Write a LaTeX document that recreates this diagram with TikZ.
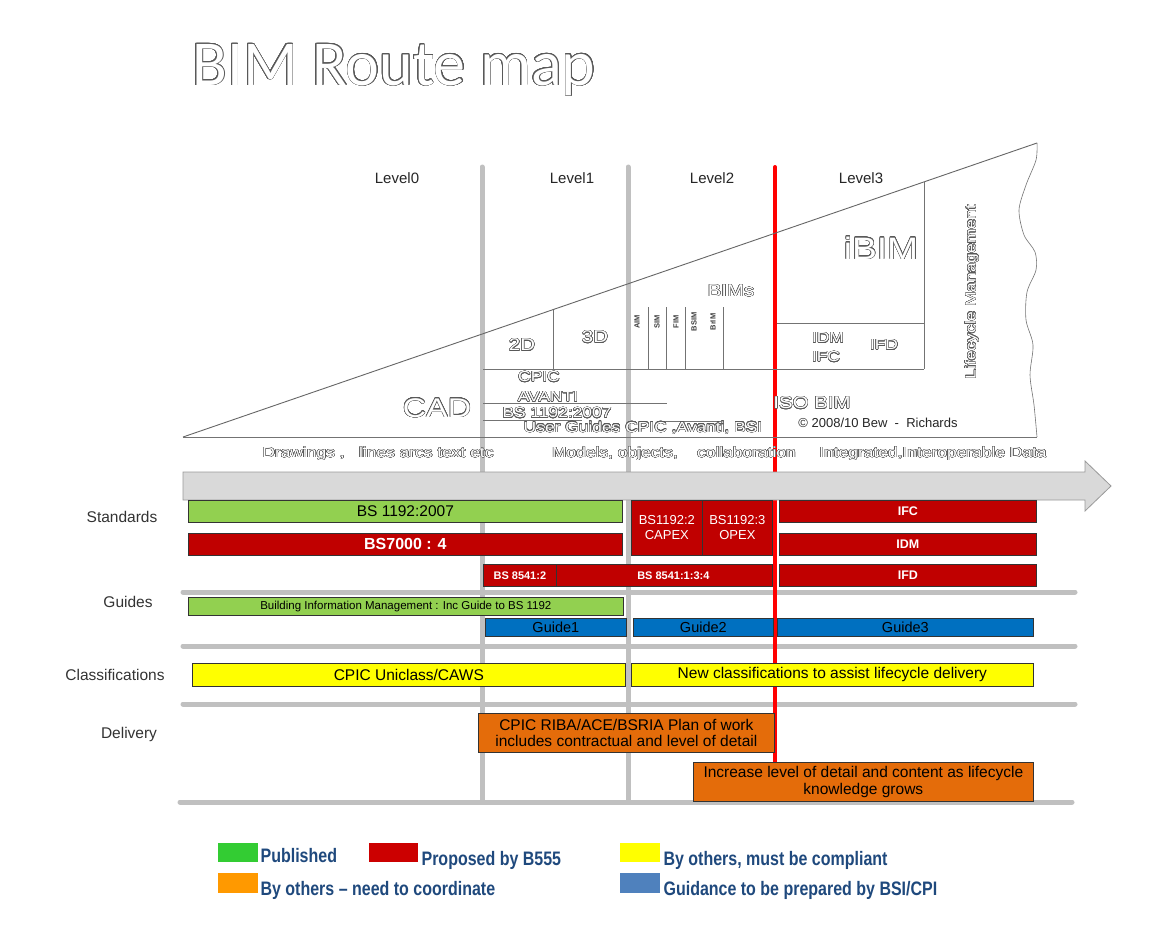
\documentclass[tikz,border=0pt]{standalone}
\usepackage{fontspec}
\setmainfont{Liberation Sans}
\newfontfamily\outlinefont{Liberation Sans}[FakeStretch=1.2]
\newfontfamily\titlefont{Carlito}
\newfontfamily\keyfont{Liberation Sans}[FakeStretch=0.82]
\usepackage{contour}
\contourlength{0.45pt}
\contournumber{24}
\usetikzlibrary{positioning}

\definecolor{bimgreen}{RGB}{146,208,80}
\definecolor{bimred}{RGB}{192,0,0}
\definecolor{bimblue}{RGB}{0,112,192}
\definecolor{bimyellow}{RGB}{255,255,0}
\definecolor{bimorange}{RGB}{228,108,10}
\definecolor{sepgray}{RGB}{192,192,192}
\definecolor{keygreen}{RGB}{51,204,51}
\definecolor{keyred}{RGB}{204,0,0}
\definecolor{keyorange}{RGB}{255,153,0}
\definecolor{keyblue}{RGB}{79,129,189}
\definecolor{keytext}{RGB}{31,73,125}

\newcommand{\fsz}[2]{\fontsize{#1}{#2}\selectfont}
\newcommand{\outlined}[1]{\contour{black!65}{#1}}

\begin{document}
\begin{tikzpicture}[x=1pt, y=-1pt,
  lvl/.style={font=\fsz{15}{17}, text=black!85},
  rowlbl/.style={font=\fsz{15.5}{18}, text=black!80},
  outl/.style={font=\outlinefont\fsz{14.5}{17}, text=white, inner sep=1pt},
  bar/.style={draw=black!80, line width=0.7pt, anchor=north west, inner sep=0pt,
    font=\fsz{15.5}{16.5}, align=center},
  redbar/.style={bar, fill=bimred, text=white, font=\bfseries\fsz{12.5}{14}},
  sepline/.style={line width=5pt, sepgray, line cap=round},
  lvlline/.style={line width=5pt, sepgray, line cap=round},
  thinline/.style={black!55, line width=0.6pt},
  keybox/.style={anchor=north west, inner sep=0pt},
  keylbl/.style={font=\keyfont\bfseries\fsz{19.5}{22}, text=keytext, inner sep=0pt}
]
  \useasboundingbox (0,0) rectangle (1155,932);
  \fill[white] (0,0) rectangle (1155,932);

  % Title
  \node[anchor=base west, font=\titlefont\fsz{64}{70}, text=white, inner sep=0pt]
    (title) at (192,85) {\contourlength{0.8pt}\outlined{BIM Route map}};

  % Row separators and level lines
  \foreach \y in {592,646,704}
    \draw[sepline] (183,\y) -- (1075,\y);
  \draw[sepline] (180,802) -- (1072,802);
  \foreach \x in {482,628}
    \draw[lvlline] (\x,167) -- (\x,800);
  \draw[red, line width=4pt, line cap=round] (775,167) -- (775,762);

  % Level labels
  \node[lvl] (lvlzero) at (397,178) {Level0};
  \node[lvl] (lvlone) at (572,178) {Level1};
  \node[lvl] (lvltwo) at (712,178) {Level2};
  \node[lvl] (lvlthree) at (861,178) {Level3};

  % Triangle
  \coordinate (tribl) at (183,437);
  \coordinate (tritr) at (1037,143);
  \coordinate (tribr) at (1037,437);
  \draw[black!60, line width=0.9pt] (tribl) -- (tritr);
  \draw[thinline] (tribl) -- (tribr);
  \draw[thinline] plot[smooth] coordinates {(1037,143) (1036,160) (1026,185) (1019,210)
    (1024,235) (1035,252) (1036,270) (1027,292) (1026,320) (1033,345) (1030,375)
    (1034,405) (1037,437)};

  % Inner divisions
  \draw[thinline] (483,369) -- (924,369);
  \draw[thinline] (924,182) -- (924,369);
  \draw[thinline] (777,323) -- (924,323);
  \draw[thinline] (553,310) -- (553,369);
  \foreach \x in {648,666,685,723}
    \draw[thinline] (\x,307) -- (\x,369);
  \draw[thinline] (483,403) -- (667,403);
  \draw[thinline] (483,420) -- (582,420);
  \draw[thinline] (663,421) -- (722,421);

  % Outlined labels in the triangle
  \node[outl, font=\outlinefont\fsz{27}{30}] (cad) at (437,408) {\outlined{CAD}};
  \node[outl, font=\outlinefont\fsz{17}{19}] (twod) at (522,345) {\outlined{2D}};
  \node[outl, font=\outlinefont\fsz{17}{19}] (threed) at (595,337) {\outlined{3D}};
  \node[outl, font=\outlinefont\fsz{17}{19}] (bims) at (731,291) {\outlined{BIMs}};
  \node[outl, font=\outlinefont\fsz{31}{34}] (ibim) at (881,248) {\outlined{iBIM}};
  \node[outl] (idmtxt) at (828,338) {\outlined{IDM}};
  \node[outl] (ifctxt) at (826,357) {\outlined{IFC}};
  \node[outl] (ifdtxt) at (884,345) {\outlined{IFD}};
  \node[outl, rotate=90] (lifecycle) at (972,292) {\outlined{Lifecycle Management}};
  \node[outl, font=\outlinefont\fsz{17}{19}] (isobim) at (812,403) {\outlined{ISO BIM}};
  \node[outl] (cpic) at (539,377) {\outlined{CPIC}};
  \node[outl] (avanti) at (548,397) {\outlined{AVANTI}};
  \node[outl] (bsguide) at (557,413) {\outlined{BS 1192:2007}};
  \node[outl] (userguides) at (643,428) {\outlined{User Guides CPIC ,Avanti, BSI}};
  \node[font=\fsz{13}{15}, text=black!85] (copyr) at (878,423) {\textcopyright\ 2008/10 Bew \ - \ Richards};
  \foreach \lbl/\x in {AIM/637, SIM/657, FIM/676, BSIM/694, BrIM/713}
    \node[rotate=90, font=\bfseries\fsz{7.5}{8}, text=black!75, inner sep=0pt] (bim\lbl) at (\x,322) {\lbl};

  % Arrow
  \draw[fill=black!15, draw=black!40, line width=0.8pt] (183,472) -- (1085,472) -- (1085,461)
    -- (1111,486) -- (1085,511) -- (1085,500) -- (183,500) -- cycle;
  \node[outl] (drawings) at (378,454) {\outlined{Drawings ,\ \ \ lines arcs text etc}};
  \node[outl] (models) at (674,454) {\outlined{Models, objects,\ \ \ \ collaboration}};
  \node[outl] (integrated) at (933,454) {\outlined{Integrated,Interoperable Data}};

  % Standards
  \node[bar, fill=bimgreen, minimum width=434, minimum height=22] (bsone) at (188,500) {BS 1192:2007};
  \node[redbar, font=\bfseries\fsz{16}{18}, minimum width=434, minimum height=22] (bsseven) at (188,533) {BS7000 : 4};
  \node[redbar, font=\fsz{13}{15}, minimum width=71, minimum height=55] (capex) at (631,500) {BS1192:2\\CAPEX};
  \node[redbar, font=\fsz{13}{15}, minimum width=70, minimum height=55] (opex) at (702,500) {BS1192:3\\OPEX};
  \node[redbar, minimum width=257, minimum height=22] (ifc) at (779,500) {IFC};
  \node[redbar, minimum width=257, minimum height=22] (idm) at (779,533) {IDM};
  \node[redbar, font=\bfseries\fsz{11}{13}, minimum width=73, minimum height=22] (bseighta) at (483,564) {BS 8541:2};
  \node[redbar, font=\bfseries\fsz{11}{13}, minimum width=216, minimum height=22] (bseightb) at (556,564) {\hspace*{18pt}BS 8541:1:3:4};
  \node[redbar, minimum width=257, minimum height=22] (ifd) at (779,564) {IFD};

  % Guides
  \node[bar, fill=bimgreen, font=\fsz{11.5}{13}, minimum width=435, minimum height=18] (bimguide) at (188,597)
    {Building Information Management : Inc Guide to BS 1192};
  \node[bar, fill=bimblue, font=\fsz{14.5}{16}, minimum width=141, minimum height=18] (guideone) at (485,618) {Guide1};
  \node[bar, fill=bimblue, font=\fsz{14.5}{16}, minimum width=140, minimum height=18] (guidetwo) at (633,618) {Guide2};
  \node[bar, fill=bimblue, font=\fsz{14.5}{16}, minimum width=256, minimum height=18] (guidethree) at (777,618) {Guide3};

  % Classifications
  \node[bar, fill=bimyellow, minimum width=433, minimum height=23] (uniclass) at (192,663) {CPIC Uniclass/CAWS};
  \node[bar, fill=bimyellow, minimum width=402, minimum height=23] (newclass) at (631,663)
    {New classifications to assist lifecycle delivery};

  % Delivery
  \node[bar, fill=bimorange, minimum width=296, minimum height=39] (planwork) at (478,713)
    {CPIC RIBA/ACE/BSRIA Plan of work\\includes contractual and level of detail};
  \node[bar, fill=bimorange, minimum width=340, minimum height=39] (lod) at (693,762)
    {Increase level of detail and content as lifecycle\\knowledge grows};

  % Row labels
  \node[rowlbl] (standards) at (122,517) {Standards};
  \node[rowlbl] (guides) at (128,602) {Guides};
  \node[rowlbl] (classif) at (115,675) {Classifications};
  \node[rowlbl] (delivery) at (129,734) {Delivery};

  % Legend
  \node[keybox, fill=keygreen, minimum width=40, minimum height=19] (keypub) at (218,843) {};
  \node[keybox, fill=keyred, minimum width=49, minimum height=19] (keyprop) at (369,843) {};
  \node[keybox, fill=bimyellow, minimum width=40, minimum height=19] (keycomp) at (620,843) {};
  \node[keybox, fill=keyorange, minimum width=40, minimum height=20] (keycoord) at (218,873) {};
  \node[keybox, fill=keyblue, minimum width=40, minimum height=20] (keyguide) at (620,873) {};
  \node[keylbl, right=2pt of keypub.south east, anchor=base west] (lblpub) {Published};
  \node[keylbl, right=3pt of keyprop.south east, anchor=base west, yshift=-3pt] (lblprop) {Proposed by B555};
  \node[keylbl, right=3pt of keycomp.south east, anchor=base west, yshift=-3pt] (lblcomp) {By others, must be compliant};
  \node[keylbl, right=2pt of keycoord.south east, anchor=base west, yshift=-2pt] (lblcoord) {By others \textendash{} need to coordinate};
  \node[keylbl, right=3pt of keyguide.south east, anchor=base west, yshift=-2pt] (lblguide) {Guidance to be prepared by BSI/CPI};
\end{tikzpicture}
\end{document}
